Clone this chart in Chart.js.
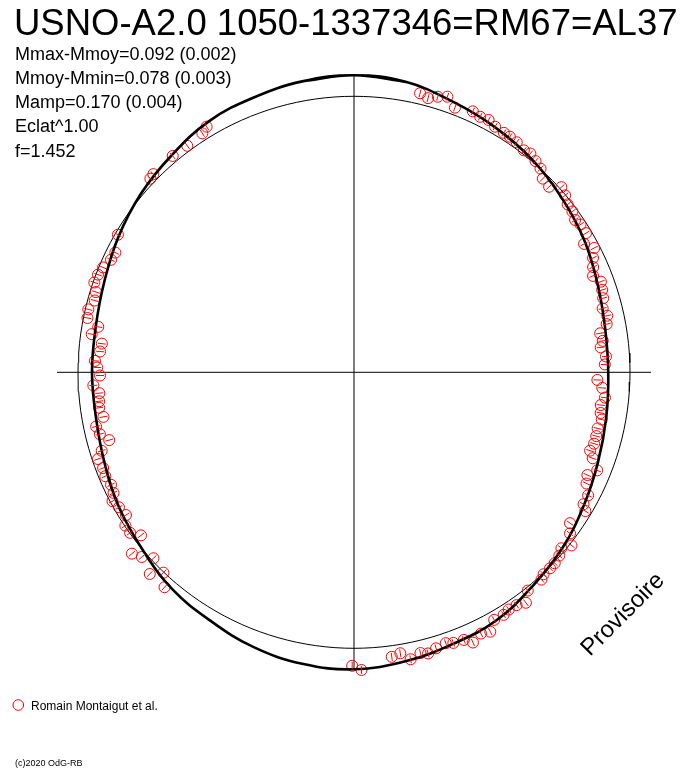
<!DOCTYPE html>
<html>
<head>
<meta charset="utf-8">
<script src="https://cdn.jsdelivr.net/npm/chart.js@4.4.1/dist/chart.umd.min.js"></script>
<style>
  html, body { margin: 0; padding: 0; background: #fff; }
  canvas { display: block; }
</style>
</head>
<body>
<canvas id="polar" width="688" height="768"></canvas>
<script>
// Folded light curve drawn in polar form: angle = phase, radius = mean circle + delta mag
const title = 'USNO-A2.0 1050-1337346=RM67=AL37';
const statLines = ['Mmax-Mmoy=0.092 (0.002)', 'Mmoy-Mmin=0.078 (0.003)', 'Mamp=0.170 (0.004)', 'Eclat^1.00', 'f=1.452'];
const observer = 'Romain Montaigut et al.';
const footer = '(c)2020 OdG-RB';
const stamp = 'Provisoire';

// model curve, one value every 10 deg of phase (delta mag from mean)
const modelPhase = [0, 0.028, 0.056, 0.083, 0.111, 0.139, 0.167, 0.194, 0.222, 0.25, 0.278, 0.306,
  0.333, 0.361, 0.389, 0.417, 0.444, 0.472, 0.5, 0.528, 0.556, 0.583, 0.611, 0.639,
  0.667, 0.694, 0.722, 0.75, 0.778, 0.806, 0.833, 0.861, 0.889, 0.917, 0.944, 0.972];
const modelMag = [0.084, 0.076, 0.048, 0.027, 0.006, -0.019, -0.042, -0.067, -0.084, -0.087, -0.079, -0.064,
  -0.042, -0.014, 0.010, 0.040, 0.052, 0.070, 0.084, 0.080, 0.066, 0.044, 0.028, 0.000,
  -0.020, -0.042, -0.056, -0.056, -0.055, -0.041, -0.017, 0.008, 0.030, 0.056, 0.066, 0.078];

// observations
const obsPhase = [0.037, 0.042, 0.047, 0.052, 0.058, 0.068, 0.073, 0.078, 0.083, 0.089, 0.093, 0.098,
  0.104, 0.108, 0.113, 0.118, 0.123, 0.129, 0.134, 0.139, 0.144, 0.149, 0.154, 0.158,
  0.164, 0.169, 0.174, 0.179, 0.184, 0.189, 0.194, 0.199, 0.204, 0.210, 0.215, 0.220,
  0.225, 0.230, 0.234, 0.240, 0.245,
  0.255, 0.260, 0.266, 0.271, 0.276, 0.280, 0.286, 0.291, 0.296, 0.301, 0.305, 0.311,
  0.316, 0.321, 0.327, 0.333, 0.336, 0.347, 0.352, 0.357, 0.362, 0.366, 0.371, 0.375,
  0.380, 0.383, 0.393, 0.398, 0.403, 0.408, 0.412, 0.418, 0.423, 0.428, 0.434, 0.438,
  0.444, 0.448, 0.454, 0.459, 0.463, 0.469, 0.474, 0.479, 0.496, 0.501,
  0.615, 0.621, 0.626, 0.631, 0.636, 0.641, 0.646, 0.651, 0.656, 0.661, 0.667, 0.672,
  0.676, 0.681, 0.687, 0.692, 0.698, 0.702, 0.707, 0.712, 0.717, 0.722, 0.728, 0.732,
  0.737, 0.742, 0.748,
  0.753, 0.757, 0.763, 0.768, 0.773, 0.778, 0.782, 0.787, 0.793, 0.798, 0.803, 0.808,
  0.813, 0.819, 0.824, 0.834, 0.871, 0.874, 0.889, 0.899, 0.910, 0.914];
const obsMag = [0.043, 0.032, 0.048, 0.060, 0.029, 0.043, 0.036, 0.040, 0.029, 0.026, 0.026, 0.023,
  0.014, 0.020, 0.010, 0.001, -0.022, -0.027, 0.008, -0.002, -0.017, -0.019, -0.030, -0.022,
  -0.022, -0.050, -0.022, -0.044, -0.059, -0.073, -0.052, -0.058, -0.064, -0.077, -0.066, -0.075,
  -0.107, -0.101, -0.112, -0.094, -0.100,
  -0.130, -0.109, -0.095, -0.108, -0.104, -0.095, -0.104, -0.102, -0.102, -0.109, -0.089, -0.055,
  -0.084, -0.073, -0.046, -0.045, -0.025, -0.050, -0.026, 0.008, -0.016, -0.003, 0.004, 0.005,
  0.004, 0.014, 0.012, 0.046, 0.032, 0.029, 0.036, 0.034, 0.068, 0.058, 0.077, 0.053,
  0.049, 0.040, 0.048, 0.059, 0.050, 0.066, 0.035, 0.044, 0.087, 0.070,
  0.042, 0.002, 0.044, -0.010, 0.021, 0.043, -0.031, -0.002, -0.003, -0.028, -0.020, -0.009,
  -0.028, -0.033, -0.026, -0.030, -0.023, -0.047, -0.088, -0.058, -0.050, -0.086, -0.075, -0.078,
  -0.082, -0.060, -0.088,
  -0.077, -0.067, -0.085, -0.089, -0.044, -0.065, -0.016, -0.012, -0.028, -0.023, -0.005, -0.008,
  -0.016, -0.033, -0.036, -0.011, 0.020, 0.024, 0.025, 0.021, 0.028, 0.042];
const obsErr = 0.016;

const meanRadius = 1.104;   // mean magnitude circle, in mag units
const pxPerMag = 250;
const centre = { x: 354, y: 372.3 };

function toXY(phase, mag) {
    const r = meanRadius + mag;
    const a = 2 * Math.PI * phase;
    return { x: r * Math.sin(a), y: r * Math.cos(a) };
}

const modelPts = modelPhase.map((p, i) => toXY(p, modelMag[i]));
const n = modelPts.length;
// wrap the ends so the smoothed curve closes cleanly
const modelLoop = [modelPts[n - 1], ...modelPts, modelPts[0], modelPts[1]];

const obsPts = obsPhase.map((p, i) => toXY(p, obsMag[i]));

const circlePts = [];
for (let k = 0; k <= 180; k++) circlePts.push(toXY(k / 180, 0));

const axisLen = meanRadius + Math.max(...modelMag);

const errorBars = {
    id: 'errorBars',
    afterDatasetsDraw(chart) {
        const meta = chart.getDatasetMeta(3);
        const { ctx } = chart;
        const x0 = chart.scales.x.getPixelForValue(0);
        const y0 = chart.scales.y.getPixelForValue(0);
        const half = obsErr * pxPerMag;
        ctx.save();
        ctx.strokeStyle = '#ff0000';
        ctx.lineWidth = 1;
        meta.data.forEach(pt => {
            const dx = pt.x - x0, dy = pt.y - y0;
            const d = Math.hypot(dx, dy);
            const ux = dx / d, uy = dy / d;
            ctx.beginPath();
            ctx.moveTo(pt.x - ux * half, pt.y - uy * half);
            ctx.lineTo(pt.x + ux * half, pt.y + uy * half);
            ctx.stroke();
        });
        ctx.restore();
    }
};

const labels = {
    id: 'labels',
    afterDraw(chart) {
        const { ctx } = chart;
        ctx.save();
        ctx.fillStyle = '#000';
        ctx.textBaseline = 'alphabetic';
        ctx.font = '36.5px "Liberation Sans", Arial, sans-serif';
        ctx.fillText(title, 14, 35);
        ctx.font = '18px "Liberation Sans", Arial, sans-serif';
        statLines.forEach((s, i) => ctx.fillText(s, 15, 59.5 + i * 24.3));

        // legend
        ctx.strokeStyle = '#ff0000';
        ctx.lineWidth = 1;
        ctx.beginPath();
        ctx.arc(18.3, 705, 5.3, 0, 2 * Math.PI);
        ctx.stroke();
        ctx.font = '12px "Liberation Sans", Arial, sans-serif';
        ctx.fillText(observer, 31, 709.5);

        ctx.font = '9px "Liberation Sans", Arial, sans-serif';
        ctx.fillText(footer, 15, 766);

        ctx.translate(590, 657);
        ctx.rotate(-Math.PI / 4);
        ctx.font = '24px "Liberation Sans", Arial, sans-serif';
        ctx.fillText(stamp, 0, 0);
        ctx.restore();
    }
};

new Chart(document.getElementById('polar').getContext('2d'), {
    type: 'scatter',
    data: {
        datasets: [
            {   // mean circle
                data: circlePts,
                showLine: true,
                borderColor: '#000',
                borderWidth: 1,
                pointRadius: 0,
                order: 3,
            },
            {   // horizontal axis
                data: [{ x: -axisLen, y: 0 }, { x: axisLen, y: 0 }],
                showLine: true,
                borderColor: '#000',
                borderWidth: 1,
                pointRadius: 0,
                order: 4,
            },
            {   // vertical axis
                data: [{ x: 0, y: -axisLen }, { x: 0, y: axisLen }],
                showLine: true,
                borderColor: '#000',
                borderWidth: 1,
                pointRadius: 0,
                order: 4,
            },
            {   // observations
                data: obsPts,
                pointRadius: 5.5,
                pointStyle: 'circle',
                borderColor: '#ff0000',
                backgroundColor: 'rgba(0,0,0,0)',
                borderWidth: 1,
                order: 2,
            },
            {   // model
                data: modelLoop,
                showLine: true,
                borderColor: '#000',
                borderWidth: 2.6,
                tension: 0.4,
                pointRadius: 0,
                order: 1,
            },
        ]
    },
    options: {
        responsive: false,
        animation: false,
        events: [],
        layout: { padding: 0, autoPadding: false },
        scales: {
            x: { type: 'linear', display: false, min: -centre.x / pxPerMag, max: (688 - centre.x) / pxPerMag },
            y: { type: 'linear', display: false, min: -(768 - centre.y) / pxPerMag, max: centre.y / pxPerMag },
        },
        plugins: {
            legend: { display: false },
            tooltip: { enabled: false },
        }
    },
    plugins: [errorBars, labels]
});
</script>
</body>
</html>
